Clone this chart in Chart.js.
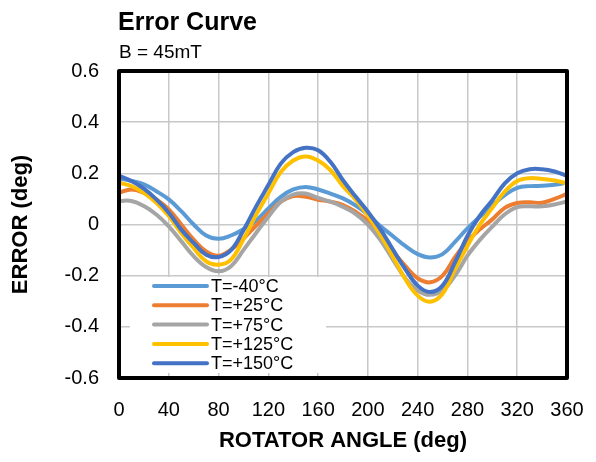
<!DOCTYPE html>
<html>
<head>
<meta charset="utf-8">
<script src="https://cdn.jsdelivr.net/npm/chart.js@4"></script>
<style>
  html, body { margin: 0; padding: 0; background: #fff; }
  #wrap { width: 596px; height: 462px; position: relative; }
</style>
</head>
<body>
<div id="wrap"><canvas id="errorChart"></canvas></div>
<script>
// rotator angle (deg), every 10 deg
const angles = [0, 10, 20, 30, 40, 50, 60, 70, 80, 90, 100, 110, 120, 130, 140, 150, 160, 170, 180,
  190, 200, 210, 220, 230, 240, 250, 260, 270, 280, 290, 300, 310, 320, 330, 340, 350, 360];

// error (deg) per temperature
const tMinus40 = [0.18, 0.17, 0.157, 0.13, 0.098, 0.052, 0.0, -0.043, -0.056, -0.043, -0.018, 0.015, 0.063, 0.108, 0.137, 0.147, 0.137, 0.121, 0.102,
  0.075, 0.039, -0.006, -0.045, -0.084, -0.116, -0.129, -0.116, -0.068, -0.015, 0.03, 0.075, 0.115, 0.143, 0.15, 0.151, 0.155, 0.164];
const tPlus25 = [0.124, 0.137, 0.124, 0.098, 0.059, 0.0, -0.059, -0.105, -0.122, -0.098, -0.055, -0.005, 0.043, 0.089, 0.111, 0.108, 0.097, 0.089, 0.076,
  0.05, 0.015, -0.039, -0.103, -0.162, -0.21, -0.226, -0.2, -0.128, -0.065, -0.019, 0.02, 0.065, 0.084, 0.087, 0.085, 0.1, 0.12];
const tPlus75 = [0.092, 0.092, 0.072, 0.039, -0.007, -0.065, -0.124, -0.166, -0.183, -0.163, -0.1, -0.034, 0.03, 0.089, 0.117, 0.121, 0.104, 0.089, 0.069,
  0.042, 0.0, -0.06, -0.136, -0.21, -0.258, -0.275, -0.258, -0.2, -0.122, -0.06, -0.008, 0.04, 0.068, 0.071, 0.071, 0.078, 0.09];
const tPlus125 = [0.163, 0.15, 0.124, 0.085, 0.033, -0.033, -0.092, -0.144, -0.157, -0.137, -0.058, 0.037, 0.121, 0.205, 0.25, 0.266, 0.25, 0.212, 0.15,
  0.098, 0.035, -0.04, -0.125, -0.213, -0.278, -0.302, -0.271, -0.174, -0.084, 0.0, 0.065, 0.129, 0.17, 0.181, 0.178, 0.172, 0.161];
const tPlus150 = [0.19, 0.17, 0.14, 0.098, 0.046, -0.02, -0.072, -0.118, -0.127, -0.1, -0.022, 0.069, 0.154, 0.238, 0.283, 0.3, 0.29, 0.244, 0.173,
  0.11, 0.05, -0.018, -0.097, -0.174, -0.239, -0.264, -0.239, -0.148, -0.045, 0.035, 0.095, 0.161, 0.2, 0.216, 0.216, 0.207, 0.19];

const seriesLabels = ['T=-40°C', 'T=+25°C', 'T=+75°C', 'T=+125°C', 'T=+150°C'];
const seriesValues = [tMinus40, tPlus25, tPlus75, tPlus125, tPlus150];
const seriesColors = ['#5B9BD5', '#ED7D31', '#A5A5A5', '#FFC000', '#4472C4'];

const xTicks = [0, 40, 80, 120, 160, 200, 240, 280, 320, 360];
const yTicks = [-0.6, -0.4, -0.2, 0, 0.2, 0.4, 0.6];

const FONT = "'Liberation Sans', Arial, sans-serif";

// title, subtitle, legend box and plot frame
const decorPlugin = {
  id: 'decor',
  afterDatasetsDraw(chart) {
    const ctx = chart.ctx;
    const a = chart.chartArea;
    // legend inside the plot
    const lx = a.left + 11, ly = a.top + 206;
    ctx.save();
    ctx.fillStyle = '#fff';
    ctx.fillRect(lx, ly, 196, 96);
    ctx.font = '18px ' + FONT;
    ctx.textBaseline = 'middle';
    ctx.lineCap = 'round';
    chart.data.datasets.forEach((ds, i) => {
      const y = ly + 9 + i * 19.3;
      ctx.strokeStyle = ds.borderColor;
      ctx.lineWidth = 4;
      ctx.beginPath();
      ctx.moveTo(lx + 24, y);
      ctx.lineTo(lx + 77, y);
      ctx.stroke();
      ctx.fillStyle = '#000';
      ctx.fillText(ds.label, lx + 81, y + 1);
    });
    ctx.restore();
  },
  afterDraw(chart) {
    const ctx = chart.ctx;
    const a = chart.chartArea;
    ctx.save();
    ctx.strokeStyle = '#000';
    ctx.lineWidth = 4;
    ctx.lineJoin = 'round';
    ctx.strokeRect(a.left, a.top, a.right - a.left, a.bottom - a.top);
    ctx.fillStyle = '#000';
    ctx.textBaseline = 'alphabetic';
    ctx.font = 'bold 25px ' + FONT;
    ctx.fillText('Error Curve', a.left - 1, 30);
    ctx.font = '19px ' + FONT;
    ctx.fillText('B = 45mT', a.left, 58);
    ctx.restore();
  }
};

const ctx = document.getElementById('errorChart').getContext('2d');
new Chart(ctx, {
  type: 'line',
  data: {
    datasets: seriesLabels.map((label, i) => ({
      label: label,
      data: angles.map((a, j) => ({ x: a, y: seriesValues[i][j] })),
      borderColor: seriesColors[i],
      backgroundColor: seriesColors[i],
      borderWidth: 4,
      pointRadius: 0,
      tension: 0.4,
      fill: false,
      order: seriesLabels.length - i
    }))
  },
  options: {
    responsive: true,
    maintainAspectRatio: false,
    animation: false,
    layout: {
      padding: { top: 71, right: 29, left: 0, bottom: 0 }
    },
    plugins: {
      legend: { display: false },
      tooltip: { enabled: false }
    },
    scales: {
      x: {
        type: 'linear',
        min: 0,
        max: 360,
        afterFit(scale) {
          scale.height = 84;
          scale.paddingLeft = 0;
          scale.paddingRight = 0;
        },
        afterBuildTicks(scale) { scale.ticks = xTicks.map(v => ({ value: v })); },
        grid: { color: '#C8C8C8', lineWidth: 1.5, drawTicks: false },
        border: { display: false },
        ticks: {
          padding: 20,
          color: '#000',
          font: { family: FONT, size: 20 },
          maxRotation: 0
        },
        title: {
          display: true,
          text: 'ROTATOR ANGLE (deg)',
          color: '#000',
          font: { family: FONT, size: 22, weight: 'bold' },
          padding: { top: 0, bottom: 8 }
        }
      },
      y: {
        min: -0.6,
        max: 0.6,
        afterFit(scale) {
          scale.width = 119;
          scale.paddingTop = 0;
          scale.paddingBottom = 0;
        },
        afterBuildTicks(scale) { scale.ticks = yTicks.map(v => ({ value: v })); },
        grid: { color: '#C8C8C8', lineWidth: 1.5, drawTicks: false },
        border: { display: false },
        ticks: {
          padding: 20,
          color: '#000',
          font: { family: FONT, size: 20 },
          callback: v => (Math.abs(v) < 1e-9 ? '0' : v.toFixed(1))
        },
        title: {
          display: true,
          text: 'ERROR (deg)',
          color: '#000',
          font: { family: FONT, size: 22, weight: 'bold' },
          padding: { top: 8, bottom: 0 }
        }
      }
    }
  },
  plugins: [decorPlugin]
});
</script>
</body>
</html>
